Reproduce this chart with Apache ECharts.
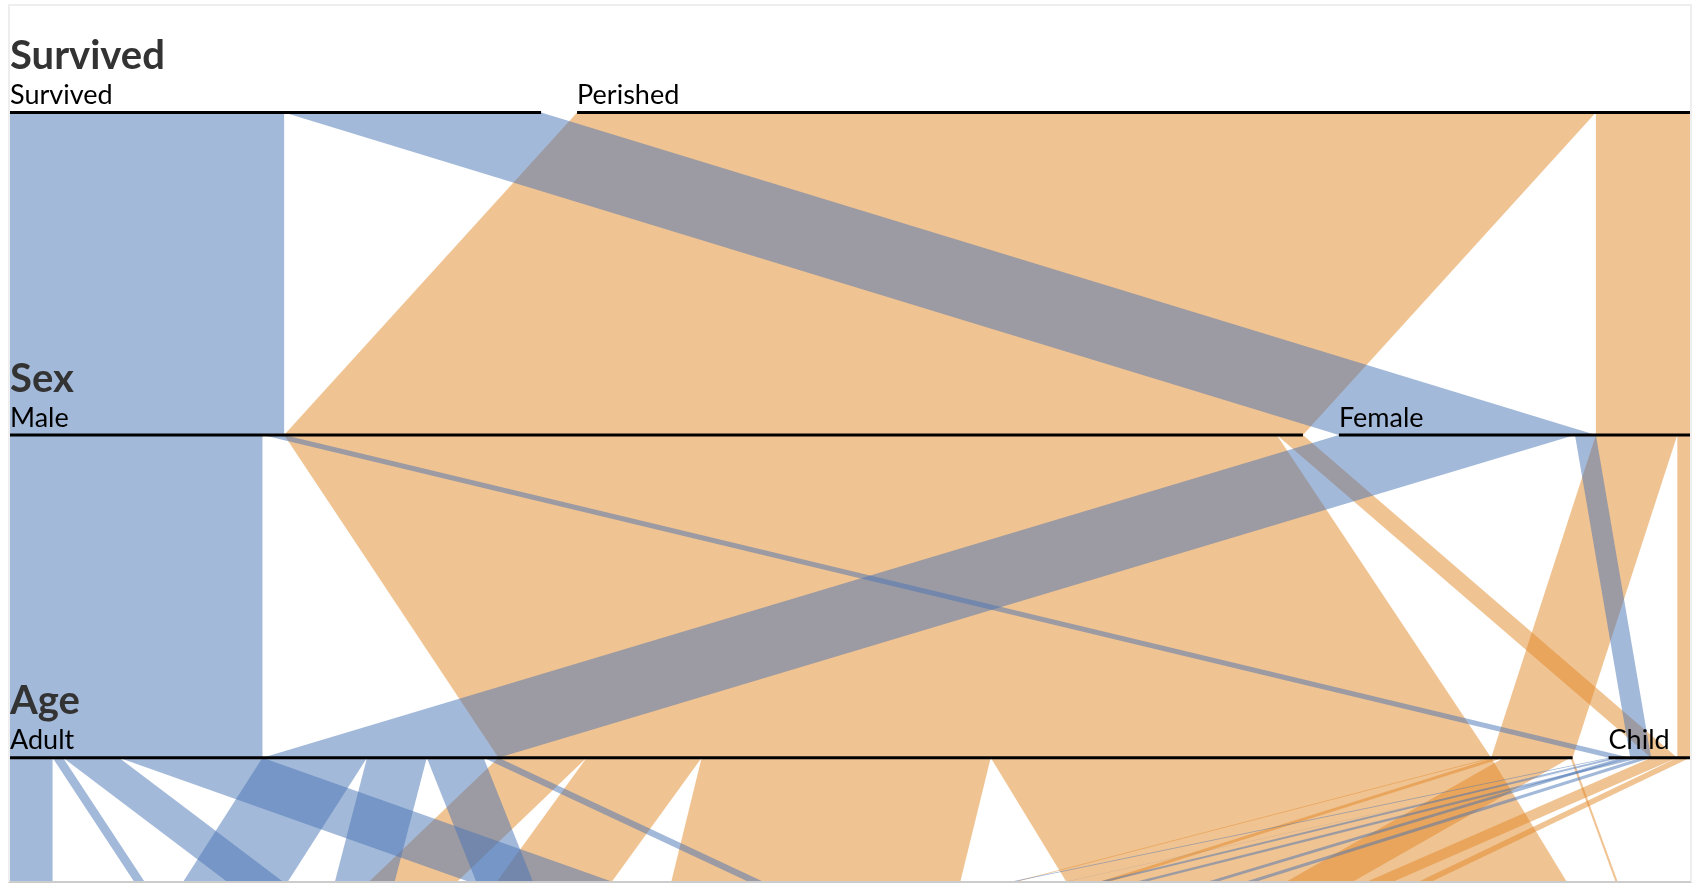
<!DOCTYPE html>
<html>
<head>
<meta charset="utf-8">
<script src="https://cdn.jsdelivr.net/npm/echarts@6/dist/echarts.min.js"></script>
<style>
html, body { margin: 0; padding: 0; background: #ffffff; }
#frame { position: absolute; left: 8px; top: 4px; width: 1680px; height: 875px;
  border: 2px solid #eeeeee; border-bottom-color: #cccccc; overflow: hidden; background: #fff; }
#chart { width: 1680px; height: 875px; }
</style>
</head>
<body>
<div id="frame"><div id="chart"></div></div>
<script>
// ---- data (Titanic passengers) ----
const dimensionNames = ['Survived', 'Sex', 'Age', 'Class'];
const survivedCategories = ['Survived', 'Perished'];
const sexCategories = ['Male', 'Female'];
const ageCategories = ['Adult', 'Child'];
const classCategories = ['First', 'Second', 'Third', 'Crew'];

// counts per class: [First, Second, Third, Crew]
const survivedMaleAdult   = [57, 14, 75, 192];
const survivedMaleChild   = [5, 11, 13, 0];
const survivedFemaleAdult = [140, 80, 76, 20];
const survivedFemaleChild = [1, 13, 14, 0];
const perishedMaleAdult   = [118, 154, 387, 670];
const perishedMaleChild   = [0, 0, 35, 0];
const perishedFemaleAdult = [4, 13, 89, 3];
const perishedFemaleChild = [0, 0, 17, 0];

// ---- layout / style constants ----
const SPACING = 36;            // total horizontal gap (px) between categories of one dimension
const LEVEL_TOP = 106.5;       // y of first dimension bar
const LEVEL_GAP = 322.6;       // distance between dimension bars
const FILLS = ['rgba(71,115,179,0.5)', 'rgba(225,135,37,0.5)'];
const FONT_FAMILY = 'Lato, "Open Sans", sans-serif';
const LABEL_SIZE = 27;
const TITLE_SIZE = 40;

// ---- build paths ----
const categoryLists = [survivedCategories, sexCategories, ageCategories, classCategories];
const combos = [
  [0, 0, 0, survivedMaleAdult], [0, 0, 1, survivedMaleChild],
  [0, 1, 0, survivedFemaleAdult], [0, 1, 1, survivedFemaleChild],
  [1, 0, 0, perishedMaleAdult], [1, 0, 1, perishedMaleChild],
  [1, 1, 0, perishedFemaleAdult], [1, 1, 1, perishedFemaleChild]
];
const rows = [];
combos.forEach(([s, x, a, counts]) => counts.forEach((n, c) => { if (n > 0) rows.push({ path: [s, x, a, c], n }); }));

const nDims = dimensionNames.length;
const catTotals = categoryLists.map(l => l.map(() => 0));
rows.forEach(r => r.path.forEach((c, d) => { catTotals[d][c] += r.n; }));
const catStarts = catTotals.map(t => { let acc = 0; return t.map(v => { const s = acc; acc += v; return s; }); });
const TOTAL = catTotals[0].reduce((a, b) => a + b, 0);

function lexCompare(a, b) {
  for (let k = 0; k < a.length; k++) if (a[k] !== b[k]) return a[k] - b[k];
  return 0;
}

const ribbons = [];
for (let i = 0; i < nDims - 1; i++) {
  const agg = new Map();
  rows.forEach(r => {
    const key = r.path.slice(0, i + 2).join(',');
    agg.set(key, (agg.get(key) || 0) + r.n);
  });
  const keys = [...agg.keys()].map(k => k.split(',').map(Number)).sort(lexCompare);
  const topOff = catTotals[i].map(() => 0);
  const botOff = catTotals[i + 1].map(() => 0);
  keys.forEach(p => {
    const n = agg.get(p.join(','));
    const ct = p[i], cb = p[i + 1];
    ribbons.push([catStarts[i][ct] + topOff[ct], i, catStarts[i + 1][cb] + botOff[cb], n,
      ct, cb, p[0], catTotals[i].length, catTotals[i + 1].length]);
    topOff[ct] += n; botOff[cb] += n;
  });
}
// perished ribbons underneath, survived on top
ribbons.sort((a, b) => b[6] - a[6]);

const categoryBars = [];
for (let d = 0; d < nDims; d++) {
  catTotals[d].forEach((t, c) => categoryBars.push([catStarts[d][c], d, t, c, catTotals[d].length]));
}
const titleData = dimensionNames.map((_, d) => [0, d]);

// ---- chart ----
const chart = echarts.init(document.getElementById('chart'), null, { renderer: 'canvas' });
chart.setOption({
  animation: false,
  backgroundColor: '#ffffff',
  grid: { left: 0, right: SPACING, top: LEVEL_TOP, height: 2 * LEVEL_GAP, outerBoundsMode: 'none' },
  xAxis: { type: 'value', min: 0, max: TOTAL, show: false },
  yAxis: { type: 'value', min: 0, max: 2, inverse: true, show: false },
  series: [
    {
      type: 'custom', coordinateSystem: 'cartesian2d', z: 1, silent: true,
      data: ribbons, encode: { x: [0, 2], y: 1 },
      renderItem(params, api) {
        const level = api.value(1);
        const w = api.size([api.value(3), 0])[0];
        const yt = api.coord([0, level])[1];
        const yb = api.coord([0, level + 1])[1];
        const xt = api.coord([api.value(0), level])[0] + api.value(4) * SPACING / (api.value(7) - 1);
        const xb = api.coord([api.value(2), level + 1])[0] + api.value(5) * SPACING / (api.value(8) - 1);
        return {
          type: 'polygon', silent: true,
          shape: { points: [[xt, yt], [xt + w, yt], [xb + w, yb], [xb, yb]] },
          style: { fill: FILLS[api.value(6)], stroke: null }
        };
      }
    },
    {
      type: 'custom', coordinateSystem: 'cartesian2d', z: 2, silent: true,
      data: categoryBars, encode: { x: 0, y: 1 },
      renderItem(params, api) {
        const level = api.value(1);
        const y = api.coord([0, level])[1];
        if (y > api.getHeight()) return null;
        const catIdx = api.value(3);
        const x = api.coord([api.value(0), level])[0] + catIdx * SPACING / (api.value(4) - 1);
        const w = api.size([api.value(2), 0])[0];
        return {
          type: 'group',
          children: [
            { type: 'rect', shape: { x: x, y: y - 1.5, width: w, height: 3 }, style: { fill: '#000000' } },
            { type: 'text', style: { x: x, y: y - 6.8 - 0.387 * LABEL_SIZE, text: categoryLists[level][catIdx],
                font: LABEL_SIZE + 'px ' + FONT_FAMILY, fill: '#000000', align: 'left', verticalAlign: 'middle' } }
          ]
        };
      }
    },
    {
      type: 'custom', coordinateSystem: 'cartesian2d', z: 3, silent: true,
      data: titleData, encode: { x: 0, y: 1 },
      renderItem(params, api) {
        const level = api.value(1);
        const pt = api.coord([0, level]);
        if (pt[1] > api.getHeight()) return null;
        return {
          type: 'text',
          style: { x: pt[0], y: pt[1] - 40.7 - 0.387 * TITLE_SIZE, text: dimensionNames[level],
            font: 'bold ' + TITLE_SIZE + 'px ' + FONT_FAMILY, fill: '#333333', align: 'left', verticalAlign: 'middle' }
        };
      }
    }
  ]
});
</script>
</body>
</html>
